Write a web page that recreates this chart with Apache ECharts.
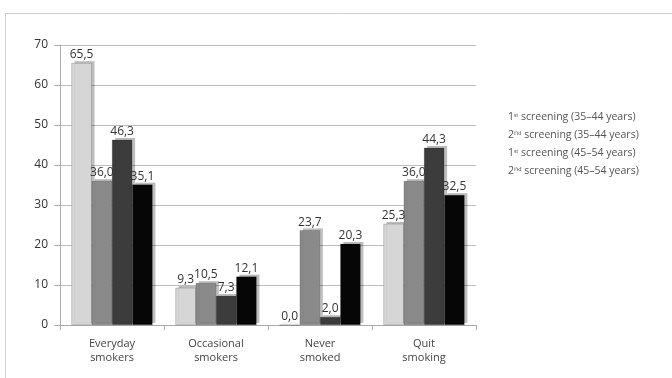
<!DOCTYPE html>
<html>
<head>
<meta charset="utf-8">
<script src="https://cdn.jsdelivr.net/npm/echarts@6/dist/echarts.min.js"></script>
<style>
html, body { margin: 0; padding: 0; background: #fff; }
#chart { width: 672px; height: 378px; }
</style>
</head>
<body>
<div id="chart"></div>
<script>
// categories and values
var categories = ['Everyday\nsmokers', 'Occasional\nsmokers', 'Never\nsmoked', 'Quit\nsmoking'];
var seriesNames = [
    '1ˢᵗ screening (35–44 years)',
    '2ⁿᵈ screening (35–44 years)',
    '1ˢᵗ screening (45–54 years)',
    '2ⁿᵈ screening (45–54 years)'
];
var first3544 = [65.5, 9.3, 0.0, 25.3];
var second3544 = [36.0, 10.5, 23.7, 36.0];
var first4554 = [46.3, 7.3, 2.0, 44.3];
var second4554 = [35.1, 12.1, 20.3, 32.5];
var yTicks = { min: 0, max: 70, interval: 10 };

var barColors = ['#d6d6d6', '#8a8a8a', '#3c3c3c', '#060606'];
var allData = [first3544, second3544, first4554, second4554];

var chart = echarts.init(document.getElementById('chart'));

var series = allData.map(function (d, i) {
    return {
        name: seriesNames[i],
        type: 'bar',
        data: d,
        barGap: '0%',
        barCategoryGap: '22%',
        itemStyle: {
            color: barColors[i],
            borderColor: 'rgba(0,0,0,0.35)',
            borderWidth: 0.5,
            shadowColor: 'rgba(0,0,0,0.25)',
            shadowOffsetX: 3,
            shadowOffsetY: -2
        },
        label: {
            show: true,
            position: 'top',
            distance: 2,
            color: '#333',
            fontSize: 12,
            fontFamily: 'Open Sans',
            formatter: function (p) {
                return p.value.toFixed(1).replace('.', ',');
            }
        }
    };
});

var option = {
    animation: false,
    backgroundColor: '#fff',
    textStyle: { fontFamily: 'Open Sans' },
    graphic: [{
        type: 'rect',
        shape: { x: 5.5, y: 13.5, width: 680, height: 380 },
        style: { fill: 'none', stroke: '#cfcfcf', lineWidth: 1 },
        z: -10
    }],
    legend: {
        orient: 'vertical',
        left: 497,
        top: 107,
        itemWidth: 0,
        itemHeight: 0,
        itemGap: 7,
        icon: 'rect',
        textStyle: { color: '#555', fontSize: 10.5, fontFamily: 'Open Sans' },
        data: seriesNames
    },
    grid: {
        left: 60,
        right: 196,
        top: 45,
        bottom: 53
    },
    xAxis: {
        type: 'category',
        data: categories,
        axisLine: { show: true, lineStyle: { color: '#aaa' } },
        axisTick: { show: true, lineStyle: { color: '#aaa' } },
        axisLabel: { color: '#444', fontSize: 11, lineHeight: 14, margin: 12 }
    },
    yAxis: {
        type: 'value',
        min: yTicks.min,
        max: yTicks.max,
        interval: yTicks.interval,
        axisLine: { show: true, lineStyle: { color: '#aaa' } },
        axisTick: { show: true, lineStyle: { color: '#aaa' } },
        axisLabel: { color: '#333', fontSize: 12, margin: 12 },
        splitLine: { show: true, lineStyle: { color: '#bdbdbd' } }
    },
    series: series
};

chart.setOption(option);
</script>
</body>
</html>
